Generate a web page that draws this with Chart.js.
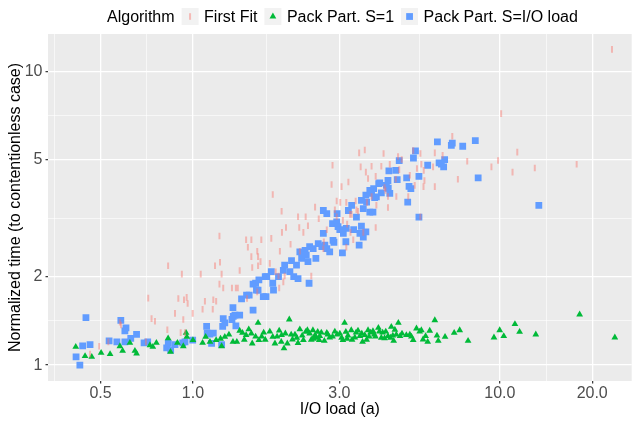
<!DOCTYPE html>
<html>
<head>
<meta charset="utf-8">
<script src="https://cdn.jsdelivr.net/npm/chart.js@4.4.1/dist/chart.umd.min.js"></script>
<style>
  html, body { margin: 0; padding: 0; background: #ffffff; }
  canvas { display: block; }
</style>
</head>
<body>
<canvas id="chart" width="637" height="421"></canvas>
<script>
// --- data (x = I/O load, y = normalized time) ---
const firstFitLoad = [
  0.462, 0.495, 0.53, 0.578, 0.583, 0.703, 0.715, 0.733, 0.752, 0.825,
  0.83, 0.874, 0.896, 0.912, 0.92, 0.93, 0.935, 0.942, 0.954, 0.961,
  0.998, 1.06, 1.075, 1.094, 1.16, 1.165, 1.18, 1.19, 1.22, 1.22,
  1.225, 1.24, 1.255, 1.34, 1.38, 1.40, 1.42, 1.49, 1.50, 1.51,
  1.55, 1.55, 1.56, 1.62, 1.62, 1.63, 1.63, 1.66, 1.67, 1.78,
  1.80, 1.82, 1.86, 1.90, 1.91, 1.92, 1.945, 1.95, 1.97, 1.99,
  2.01, 2.08, 2.20, 2.22, 2.23, 2.29, 2.33, 2.37, 2.43, 2.50,
  2.57, 2.66, 2.67, 2.73, 2.83, 2.85, 2.90, 2.94, 2.94, 3.02,
  3.05, 3.08, 3.16, 3.16, 3.18, 3.21, 3.25, 3.26, 3.29, 3.33,
  3.39, 3.41, 3.45, 3.48, 3.52, 3.59, 3.63, 3.66, 3.69, 3.72,
  3.82, 3.82, 3.94, 3.94, 3.96, 4.11, 4.18, 4.21, 4.24, 4.32,
  4.32, 4.38, 4.58, 4.60, 4.66, 4.70, 4.79, 5.03, 5.09, 5.22,
  5.28, 5.37, 5.51, 5.51, 5.55, 5.64, 5.65, 5.68, 6.06, 6.14,
  6.14, 6.51, 7.0, 7.3, 7.83, 9.39, 9.87, 10.1, 11.0, 11.4,
  13.0, 17.8, 23.2
];
const firstFitTime = [
  1.09, 1.16, 1.20, 1.40, 1.37, 1.20, 1.69, 1.44, 1.41, 1.32,
  2.18, 1.50, 1.685, 1.29, 2.04, 1.43, 1.67, 1.29, 1.70, 1.62,
  1.50, 2.04, 1.55, 1.65, 1.55, 1.67, 2.18, 1.65, 2.75, 1.886,
  2.24, 2.04, 1.83, 1.83, 1.83, 1.83, 2.10, 2.67, 1.685, 2.52,
  2.67, 2.34, 2.15, 2.44, 1.775, 2.34, 2.18, 2.25, 2.67, 2.22,
  2.70, 3.81, 2.08, 2.01, 1.83, 2.44, 3.34, 2.83, 1.92, 2.01,
  2.94, 2.58, 3.20, 2.94, 2.44, 2.83, 3.20, 2.98, 2.01, 3.45,
  3.15, 2.49, 2.63, 2.89, 4.12, 4.79, 3.38, 3.62, 3.20, 3.58,
  4.05, 3.11, 3.58, 2.52, 3.02, 4.20, 3.26, 2.83, 3.26, 2.67,
  3.62, 3.38, 3.34, 5.28, 4.73, 2.83, 5.40, 4.54, 3.58, 4.32,
  4.75, 3.75, 4.39, 2.94, 3.50, 4.75, 5.25, 4.02, 3.93, 3.75,
  3.44, 4.83, 4.29, 3.75, 5.13, 4.63, 5.01, 3.75, 4.43, 5.38,
  4.09, 4.67, 5.25, 3.20, 4.83, 4.05, 4.60, 4.25, 4.73, 5.28,
  4.05, 5.18, 6.01, 4.29, 4.94, 4.73, 4.97, 7.18, 4.54, 5.31,
  4.69, 4.83, 11.88
];

const packS1Load = [
  0.415, 0.445, 0.468, 0.502, 0.537, 0.578, 0.59, 0.623, 0.647, 0.655,
  0.724, 0.74, 0.76, 0.83, 0.845, 0.89, 0.93, 0.95, 0.955, 1.0,
  1.075, 1.10, 1.136, 1.19, 1.24, 1.27, 1.35, 1.39, 1.42, 1.45,
  1.49, 1.52, 1.55, 1.56, 1.63, 1.64, 1.675, 1.72, 1.78, 1.82,
  1.85, 1.88, 1.91, 1.945, 1.98, 2.0, 2.03, 2.06, 2.11, 2.15,
  2.2, 2.23, 2.27, 2.29, 2.33, 2.36, 2.40, 2.43, 2.46, 2.50,
  2.52, 2.55, 2.58, 2.59, 2.73, 2.75, 2.79, 2.9, 2.95, 3.01,
  3.08, 3.12, 3.15, 3.2, 3.28, 3.3, 3.37, 3.45, 3.50, 3.57,
  3.63, 3.72, 3.75, 3.79, 3.86, 3.93, 4.02, 4.05, 4.11, 4.15,
  4.21, 4.32, 4.4, 4.43, 4.51, 4.55, 4.6, 4.67, 4.73, 4.8,
  4.96, 5.09, 5.15, 5.22, 5.35, 5.48, 5.55, 5.62, 5.73, 5.82,
  5.91, 6.14, 6.24, 6.3, 6.63, 7.1, 7.4, 7.88, 9.57, 9.99,
  10.3, 11.2, 11.6, 13.1, 18.2, 23.7,
  1.23, 1.31, 1.47, 1.60, 1.70, 1.94, 2.09, 2.18, 2.47, 2.62,
  2.68, 2.85, 3.05, 3.18, 3.40, 3.55, 3.68, 3.90, 4.25, 4.48
];
const packS1Time = [
  1.154, 1.073, 1.067, 1.101, 1.09, 1.16, 1.118, 1.191, 1.118, 1.096,
  1.169, 1.154, 1.191, 1.233, 1.11, 1.191, 1.16, 1.288, 1.248, 1.216,
  1.191, 1.248, 1.2, 1.216, 1.16, 1.248, 1.2, 1.2, 1.309, 1.288,
  1.265, 1.323, 1.282, 1.185, 1.393, 1.216, 1.25, 1.22, 1.30, 1.248,
  1.185, 1.25, 1.31, 1.265, 1.14, 1.282, 1.185, 1.43, 1.223, 1.27,
  1.19, 1.323, 1.26, 1.216, 1.298, 1.315, 1.282, 1.22, 1.315, 1.265,
  1.24, 1.298, 1.216, 1.255, 1.288, 1.272, 1.242, 1.30, 1.272, 1.28,
  1.216, 1.393, 1.298, 1.26, 1.315, 1.22, 1.242, 1.31, 1.255, 1.2,
  1.265, 1.315, 1.25, 1.29, 1.305, 1.25, 1.339, 1.3, 1.24, 1.29,
  1.235, 1.255, 1.24, 1.35, 1.21, 1.32, 1.27, 1.393, 1.255, 1.28,
  1.265, 1.27, 1.25, 1.216, 1.333, 1.30, 1.315, 1.223, 1.255, 1.2,
  1.309, 1.422, 1.26, 1.21, 1.248, 1.288, 1.315, 1.21, 1.242, 1.315,
  1.255, 1.379, 1.298, 1.272, 1.487, 1.242,
  1.23, 1.27, 1.22, 1.25, 1.29, 1.20, 1.27, 1.24, 1.23, 1.29,
  1.21, 1.25, 1.24, 1.23, 1.29, 1.28, 1.22, 1.27, 1.30, 1.26
];

const packIOLoad = [
  0.416, 0.428, 0.437, 0.448, 0.462, 0.533, 0.565, 0.582, 0.60, 0.605,
  0.60, 0.627, 0.655, 0.693, 0.712, 0.821, 0.831, 0.846, 0.874, 0.926,
  0.942, 0.998, 1.108, 1.113, 1.136, 1.15, 1.165, 1.24, 1.25, 1.255,
  1.27, 1.34, 1.35, 1.37, 1.38, 1.353, 1.42, 1.44, 1.495, 1.525,
  1.57, 1.57, 1.60, 1.61, 1.63, 1.64, 1.695, 1.72, 1.73, 1.74,
  1.80, 1.82, 1.83, 1.90, 1.97, 1.99, 2.07, 2.095, 2.13, 2.175,
  2.20, 2.23, 2.26, 2.32, 2.34, 2.37, 2.39, 2.40, 2.465, 2.515,
  2.56, 2.63, 2.66, 2.69, 2.73, 2.79, 2.86, 2.88, 2.66, 2.73,
  2.85, 2.94, 2.95, 2.97, 3.01, 3.07, 3.09, 3.15, 3.16, 3.21,
  3.29, 3.34, 3.41, 3.48, 3.50, 3.54, 3.59, 3.59, 3.68, 3.66,
  3.77, 3.82, 3.88, 3.96, 4.03, 4.11, 4.27, 4.32, 4.33, 3.54,
  3.66, 3.77, 3.86, 3.91, 4.06, 4.38, 4.35, 4.58, 4.63, 4.70,
  4.97, 5.01, 5.06, 5.13, 5.23, 5.31, 5.45, 5.45, 5.82, 6.26,
  6.34, 6.45, 6.56, 6.61, 6.95, 7.0, 7.57, 8.32, 8.5, 13.4
];
const packIOTime = [
  1.067, 1.0, 1.163, 1.45, 1.175, 1.21, 1.2, 1.42, 1.309, 1.34,
  1.2, 1.233, 1.272, 1.191, 1.2, 1.145, 1.185, 1.125, 1.175, 1.191,
  1.2, 1.216, 1.355, 1.285, 1.275, 1.185, 1.285, 1.175, 1.355, 1.44,
  1.393, 1.43, 1.57, 1.479, 1.36, 1.465, 1.479, 1.68, 1.73, 1.73,
  1.54, 1.886, 1.90, 1.80, 1.80, 1.95, 1.71, 2.0, 1.71, 2.0,
  2.08, 1.90, 1.80, 2.0, 2.10, 2.19, 2.08, 2.27, 2.0, 2.19,
  1.97, 2.43, 2.31, 2.46, 2.37, 2.25, 1.90, 2.53, 2.49, 2.31,
  2.59, 2.53, 2.81, 2.56, 2.49, 2.43, 2.66, 2.62, 3.36, 3.28,
  3.03, 3.07, 3.28, 2.96, 2.89, 2.41, 2.81, 2.63, 2.92, 3.36,
  3.50, 2.89, 3.19, 2.56, 2.81, 2.97, 3.41, 2.73, 3.59, 2.84,
  3.32, 3.84, 3.99, 3.74, 4.15, 3.855, 4.09, 4.25, 4.0, 3.64,
  3.79, 3.93, 3.32, 3.72, 4.17, 3.84, 4.58, 4.60, 4.28, 4.97,
  4.34, 3.59, 4.06, 3.99, 5.07, 5.36, 4.39, 3.19, 4.79, 5.75,
  4.88, 4.83, 4.73, 5.01, 5.60, 5.70, 5.56, 5.81, 4.34, 3.50
];

const seriesNames = ["First Fit", "Pack Part. S=1", "Pack Part. S=I/O load"];
const xTicks = [0.5, 1, 3, 10, 20];
const xTickLabels = ["0.5", "1.0", "3.0", "10.0", "20.0"];
const yTicks = [1, 2, 5, 10];
const yTickLabels = ["1", "2", "5", "10"];

const X_MIN = 0.337, X_MAX = 26.9;
const Y_MIN = 0.883, Y_MAX = 13.4;

const FONT = '"Liberation Sans", Arial, Helvetica, sans-serif';
const PANEL_TOP = 34, PANEL_LEFT = 48, PANEL_RIGHT = 632, PANEL_BOTTOM = 381;

// ggplot-style minor breaks: geometric midpoints between majors
function minorBreaks(majors, lo, hi) {
    const n = majors.length;
    const ext = [majors[0] * majors[0] / majors[1], ...majors,
        majors[n - 1] * majors[n - 1] / majors[n - 2]];
    const out = [];
    for (let i = 0; i < ext.length - 1; i++) {
        const m = Math.sqrt(ext[i] * ext[i + 1]);
        if (m >= lo && m <= hi) out.push(m);
    }
    return out;
}

function isMajor(v, majors) {
    return majors.some(m => Math.abs(m - v) / m < 1e-6);
}

function labelFor(v, majors, labels) {
    const i = majors.findIndex(m => Math.abs(m - v) / m < 1e-6);
    return i >= 0 ? labels[i] : "";
}

const xAll = [...xTicks, ...minorBreaks(xTicks, X_MIN, X_MAX)].sort((a, b) => a - b);
const yAll = [...yTicks, ...minorBreaks(yTicks, Y_MIN, Y_MAX)].sort((a, b) => a - b);

const toPoints = (xs, ys) => xs.map((x, i) => ({ x, y: ys[i] }));

const styles = [
    { pointStyle: "line", radius: 3.3, rotation: 90, borderWidth: 2,
      fill: "rgba(248,118,109,0.45)", stroke: "rgba(248,118,109,0.45)" },
    { pointStyle: "triangle", radius: 3.9, rotation: 0, borderWidth: 0,
      fill: "#00BA38", stroke: "#00BA38" },
    { pointStyle: "rect", radius: 4.8, rotation: 0, borderWidth: 0,
      fill: "#619CFF", stroke: "#619CFF" }
];

const seriesData = [
    toPoints(firstFitLoad, firstFitTime),
    toPoints(packS1Load, packS1Time),
    toPoints(packIOLoad, packIOTime)
];

function gridWidth(majors) {
    return ctx => (ctx.tick && isMajor(ctx.tick.value, majors)) ? 1.3 : 0.6;
}
function tickColor(majors) {
    return ctx => (ctx.tick && isMajor(ctx.tick.value, majors)) ? "#333333" : "rgba(0,0,0,0)";
}

// grey panel behind the grid
const panelBg = {
    id: "panelBg",
    beforeDraw(chart) {
        const { ctx, chartArea: a } = chart;
        ctx.save();
        ctx.fillStyle = "#ffffff";
        ctx.fillRect(0, 0, chart.width, chart.height);
        ctx.fillStyle = "#EBEBEB";
        ctx.fillRect(a.left, a.top, a.right - a.left, a.bottom - a.top);
        ctx.restore();
    }
};

// ggplot-like horizontal legend with inline title
const ggLegend = {
    id: "ggLegend",
    afterDraw(chart) {
        const ctx = chart.ctx;
        ctx.save();
        ctx.font = "16px " + FONT;
        ctx.textBaseline = "alphabetic";
        ctx.textAlign = "left";
        ctx.fillStyle = "#000000";
        let x = 107;
        const base = 22, boxTop = 8, box = 17;
        ctx.fillText("Algorithm", x, base);
        x += ctx.measureText("Algorithm").width + 7;
        seriesNames.forEach((name, i) => {
            const s = styles[i];
            ctx.fillStyle = "#F2F2F2";
            ctx.fillRect(x, boxTop, box, box);
            ctx.fillStyle = s.fill;
            ctx.strokeStyle = s.stroke;
            ctx.lineWidth = s.borderWidth;
            Chart.helpers.drawPoint(ctx, {
                pointStyle: s.pointStyle, radius: s.radius,
                rotation: s.rotation, borderWidth: s.borderWidth
            }, x + box / 2, boxTop + box / 2);
            x += box + 5.5;
            ctx.fillStyle = "#000000";
            ctx.fillText(name, x, base);
            x += ctx.measureText(name).width + 7;
        });
        ctx.restore();
    }
};

new Chart(document.getElementById("chart"), {
    type: "scatter",
    data: {
        datasets: seriesData.map((data, i) => ({
            label: seriesNames[i],
            data,
            pointStyle: styles[i].pointStyle,
            pointRadius: styles[i].radius,
            pointRotation: styles[i].rotation,
            pointBackgroundColor: styles[i].fill,
            pointBorderColor: styles[i].stroke,
            pointBorderWidth: styles[i].borderWidth,
            pointHoverRadius: styles[i].radius
        }))
    },
    options: {
        responsive: false,
        animation: false,
        events: [],
        layout: { padding: { left: 0, top: PANEL_TOP, right: 637 - PANEL_RIGHT, bottom: 0 } },
        plugins: {
            legend: { display: false },
            tooltip: { enabled: false }
        },
        scales: {
            x: {
                type: "logarithmic",
                min: X_MIN,
                max: X_MAX,
                // the log scale rounds its bounds to the generated ticks, so pin them back
                afterBuildTicks: s => {
                    s.ticks = xAll.map(v => ({ value: v }));
                    s.min = X_MIN;
                    s.max = X_MAX;
                },
                afterFit: s => {
                    s.height = 421 - PANEL_BOTTOM;
                    s.paddingLeft = 0;
                    s.paddingRight = 0;
                },
                border: { display: false },
                grid: {
                    color: "#FFFFFF",
                    lineWidth: gridWidth(xTicks),
                    tickColor: tickColor(xTicks),
                    tickWidth: 1.2,
                    tickLength: 2.5
                },
                ticks: {
                    autoSkip: false,
                    maxRotation: 0,
                    padding: 0,
                    color: "#4D4D4D",
                    font: { family: FONT, size: 16 },
                    callback: v => labelFor(v, xTicks, xTickLabels)
                },
                title: {
                    display: true,
                    text: "I/O load (a)",
                    color: "#000000",
                    font: { family: FONT, size: 16 },
                    padding: { top: 0, bottom: 2 }
                }
            },
            y: {
                type: "logarithmic",
                min: Y_MIN,
                max: Y_MAX,
                afterBuildTicks: s => {
                    s.ticks = yAll.map(v => ({ value: v }));
                    s.min = Y_MIN;
                    s.max = Y_MAX;
                },
                afterFit: s => {
                    s.width = PANEL_LEFT;
                    s.paddingTop = 0;
                    s.paddingBottom = 0;
                },
                border: { display: false },
                grid: {
                    color: "#FFFFFF",
                    lineWidth: gridWidth(yTicks),
                    tickColor: tickColor(yTicks),
                    tickWidth: 1.2,
                    tickLength: 2.5
                },
                ticks: {
                    autoSkip: false,
                    padding: 3,
                    color: "#4D4D4D",
                    font: { family: FONT, size: 16 },
                    callback: v => labelFor(v, yTicks, yTickLabels)
                },
                title: {
                    display: true,
                    text: "Normalized time (to contentionless case)",
                    color: "#000000",
                    font: { family: FONT, size: 16 },
                    padding: { top: 6, bottom: 0 }
                }
            }
        }
    },
    plugins: [panelBg, ggLegend]
});
</script>
</body>
</html>
